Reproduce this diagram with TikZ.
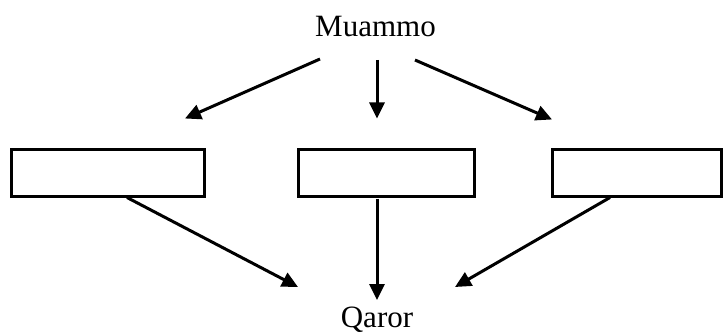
\documentclass[tikz,border=0pt]{standalone}
\usepackage{fontspec}
\setmainfont{Liberation Serif}
\usetikzlibrary{arrows.meta}
\tikzset{
  lbl/.style={anchor=base, inner sep=0pt, font=\fontsize{31}{37}\selectfont},
  emptybox/.style={draw, line width=3pt, inner sep=0pt, minimum height=46pt},
  arr/.style={line width=3pt, -{Triangle[length=16pt,width=15pt]}}
}
\begin{document}
\begin{tikzpicture}[x=1pt,y=-1pt]
\useasboundingbox (0,0) rectangle (723,334);
\node[lbl] (mu) at (375.5,36.5) {Muammo};
\node[lbl] (qa) at (377,327) {Qaror};
\node[emptybox, minimum width=193pt] (b1) at (107.5,173) {};
\node[emptybox, minimum width=176pt] (b2) at (386,173) {};
\node[emptybox, minimum width=169pt] (b3) at (637,173) {};
\draw[arr] ([shift={(-55.5,22.5)}]mu.base) -- ([shift={(77.5,-30)}]b1.north);
\draw[arr] ([shift={(1.5,23.5)}]mu.base) -- ([shift={(-9,-30)}]b2.north);
\draw[arr] ([shift={(39.5,23.5)}]mu.base) -- ([shift={(-85,-29)}]b3.north);
\draw[arr] ([shift={(19.5,0)}]b1.south) -- ([shift={(-79,-40)}]qa.base);
\draw[arr] ([shift={(-9,1)}]b2.south) -- ([shift={(0,-27)}]qa.base);
\draw[arr] ([shift={(-27,0)}]b3.south) -- ([shift={(78,-40)}]qa.base);
\end{tikzpicture}
\end{document}
